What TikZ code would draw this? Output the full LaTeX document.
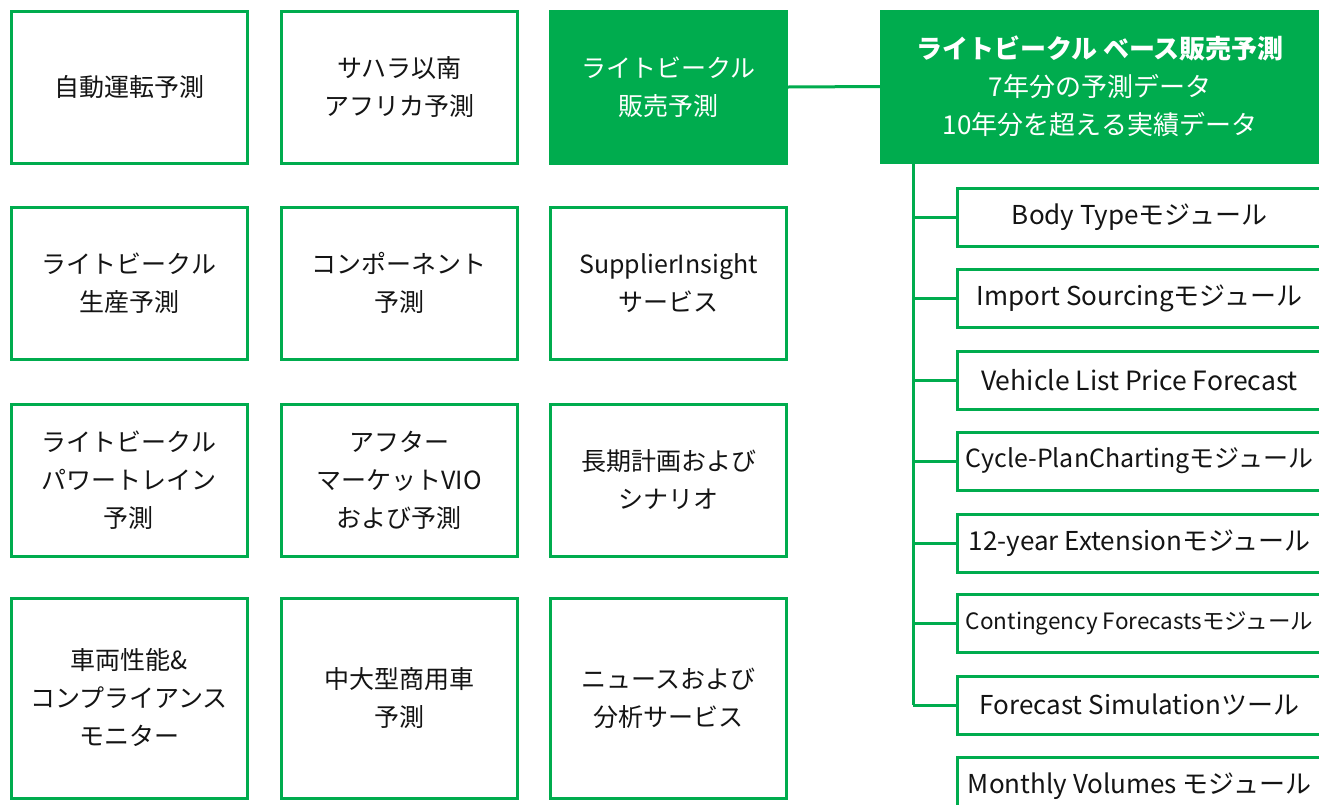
\documentclass[tikz,border=0pt]{standalone}
\usepackage{fontspec}
\setmainfont{Noto Sans CJK JP}
\definecolor{grn}{RGB}{0,172,78}
\definecolor{txt}{RGB}{20,20,20}
\begin{document}
\begin{tikzpicture}[x=1pt,y=-1pt,
  box/.style={draw=grn,line width=3pt,fill=white,minimum width=236pt,minimum height=152pt,inner sep=0pt,align=center,text=txt,font=\fontsize{25}{38}\selectfont},
  tall/.style={minimum height=200pt},
  solid box/.style={fill=grn,draw=grn,text=white},
  modbox/.style={draw=grn,line width=3pt,fill=white,minimum width=365pt,minimum height=58pt,inner sep=0pt,text=txt,font=\fontsize{26}{30}\selectfont},
  conn/.style={draw=grn,line width=3pt}]
\useasboundingbox (0,0) rectangle (1319,804);
\fill[white] (0,0) rectangle (1319,804);
% grid
\node[box] (a1) at (129,87) {自動運転予測};
\node[box] (a2) at (399,87) {サハラ以南\\アフリカ予測};
\node[box,solid box] (ls) at (668.5,87) {ライトビークル\\販売予測};
\node[box] (b1) at (129,283) {ライトビークル\\生産予測};
\node[box] (b2) at (399,283) {コンポーネント\\予測};
\node[box] (b3) at (668.5,283) {SupplierInsight\\サービス};
\node[box] (c1) at (129,480) {ライトビークル\\パワートレイン\\予測};
\node[box] (c2) at (399,480) {アフター\\マーケットVIO\\および予測};
\node[box] (c3) at (668.5,480) {長期計画および\\シナリオ};
\node[box,tall] (d1) at (129,698) {車両性能\&\\コンプライアンス\\モニター};
\node[box,tall] (d2) at (399,698) {中大型商用車\\予測};
\node[box,tall] (d3) at (668.5,698) {ニュースおよび\\分析サービス};
% main box
\node[box,solid box,minimum width=440pt,minimum height=153pt,line width=0pt,font=\fontsize{26}{38}\selectfont] (big) at (1100,86.5) {\textbf{ライトビークル ベース販売予測}\\7年分の予測データ\\10年分を超える実績データ};
\draw[conn] (ls.east) -- (big.west);
% modules
\node[modbox] (m1) at (1139.5,217.5) {Body Typeモジュール};
\node[modbox] (m2) at (1139.5,298.5) {Import Sourcingモジュール};
\node[modbox,font=\fontsize{26.5}{30}\selectfont] (m3) at (1139.5,380) {Vehicle List Price Forecast};
\node[modbox,font=\fontsize{25}{30}\selectfont] (m4) at (1139.5,461) {Cycle-PlanChartingモジュール};
\node[modbox] (m5) at (1139.5,543) {12-year Extensionモジュール};
\node[modbox,font=\fontsize{22.5}{26}\selectfont] (m6) at (1139.5,623.5) {Contingency Forecastsモジュール};
\node[modbox] (m7) at (1139.5,705) {Forecast Simulationツール};
\node[modbox] (m8) at (1139.5,786) {Monthly Volumes モジュール};
\coordinate (trunk) at (913,163);
\draw[conn] (trunk) -- (trunk |- m7.west);
\foreach \m in {m1,m2,m3,m4,m5,m6,m7}{
  \draw[conn] (trunk |- \m.west) -- (\m.west);
}
\end{tikzpicture}
\end{document}
